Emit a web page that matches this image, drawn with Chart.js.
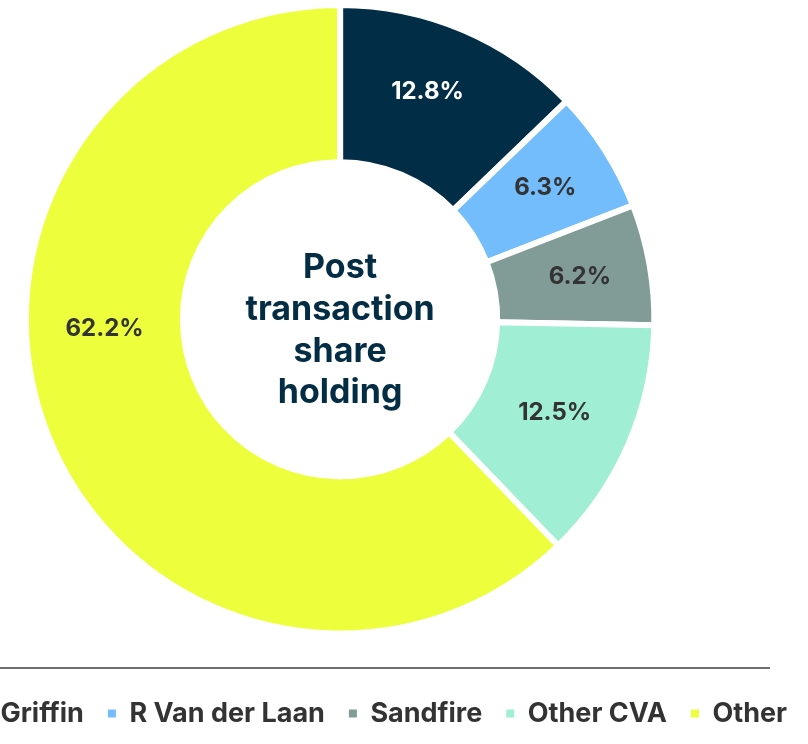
<!DOCTYPE html>
<html>
<head>
<meta charset="utf-8">
<script src="https://cdn.jsdelivr.net/npm/chart.js@4.4.0/dist/chart.umd.min.js"></script>
<style>
  html, body { margin: 0; padding: 0; background: #ffffff; overflow: hidden; }
  body { width: 808px; height: 744px; position: relative; }
  #holder { position: absolute; left: -56.6px; top: 0; width: 880px; height: 737px; }
  #rule { position: absolute; left: 0; top: 667px; width: 770px; height: 2px; background: #6e6e6e; }
</style>
</head>
<body>
<div id="holder"><canvas id="shareChart"></canvas></div>
<div id="rule"></div>
<script>
var holders = ['Griffin', 'R Van der Laan', 'Sandfire', 'Other CVA', 'Other'];
var shares = [12.8, 6.3, 6.2, 12.5, 62.2];
var sliceColours = ['#012d46', '#74bdfd', '#819c97', '#a0eed3', '#edff3c'];
var labelColours = ['#ffffff', '#333333', '#333333', '#333333', '#333333'];
var centreLines = ['Post', 'transaction', 'share', 'holding'];

// percentage labels sitting on each slice
var sliceLabels = {
    id: 'sliceLabels',
    afterDatasetsDraw: function (chart, args, opts) {
        var ctx = chart.ctx;
        var meta = chart.getDatasetMeta(0);
        ctx.save();
        ctx.font = opts.font;
        ctx.textAlign = 'center';
        ctx.textBaseline = 'middle';
        meta.data.forEach(function (arc, i) {
            var p = arc.getProps(['x', 'y', 'startAngle', 'endAngle', 'innerRadius', 'outerRadius'], true);
            var mid = (p.startAngle + p.endAngle) / 2 + (opts.angleShift[i] || 0) * Math.PI / 180;
            var r = p.innerRadius + (p.outerRadius - p.innerRadius) * opts.radiusFraction[i];
            ctx.fillStyle = labelColours[i];
            ctx.fillText(shares[i].toFixed(1) + '%', p.x + r * Math.cos(mid), p.y + r * Math.sin(mid));
        });
        ctx.restore();
    }
};

// title in the hole
var centreText = {
    id: 'centreText',
    afterDatasetsDraw: function (chart, args, opts) {
        var ctx = chart.ctx;
        var arc = chart.getDatasetMeta(0).data[0];
        ctx.save();
        ctx.font = opts.font;
        ctx.fillStyle = opts.color;
        ctx.textAlign = 'center';
        ctx.textBaseline = 'alphabetic';
        centreLines.forEach(function (line, i) {
            ctx.fillText(line, arc.x, arc.y + opts.firstBaseline + i * opts.lineGap);
        });
        ctx.restore();
    }
};

var ctx = document.getElementById('shareChart').getContext('2d');
var theChart = new Chart(ctx, {
    type: 'doughnut',
    data: {
        labels: holders,
        datasets: [{
            data: shares,
            backgroundColor: sliceColours,
            borderColor: '#ffffff',
            borderWidth: 6
        }]
    },
    options: {
        responsive: true,
        maintainAspectRatio: false,
        animation: false,
        cutout: '50%',
        layout: {
            padding: { top: 2 }
        },
        plugins: {
            tooltip: { enabled: false },
            // empty title on the right only pushes the ring to the left
            title: {
                display: true,
                position: 'right',
                text: '',
                font: { size: 8, lineHeight: 1 },
                padding: { top: 38.9, bottom: 38.9 }
            },
            legend: {
                position: 'bottom',
                align: 'center',
                // empty legend title = gap between ring and legend row
                title: {
                    display: true,
                    text: '',
                    font: { size: 10, lineHeight: 1 },
                    padding: 14.75
                },
                labels: {
                    boxWidth: 8,
                    boxHeight: 8,
                    padding: 24,
                    color: '#333333',
                    font: { family: 'Inter', size: 27, weight: 'bold' },
                    generateLabels: function (chart) {
                        var items = Chart.overrides.doughnut.plugins.legend.labels.generateLabels(chart);
                        items.forEach(function (item) {
                            item.lineWidth = 0;
                            item.strokeStyle = 'rgba(0,0,0,0)';
                        });
                        return items;
                    }
                }
            },
            sliceLabels: {
                font: 'bold 24px Inter',
                radiusFraction: [0.55, 0.55, 0.55, 0.49, 0.5],
                angleShift: [-2, 0, 0, 0, 19.6]
            },
            centreText: {
                font: 'bold 34px Inter',
                color: '#032d45',
                firstBaseline: -41,
                lineGap: 41.7
            }
        }
    },
    plugins: [sliceLabels, centreText]
});
</script>
</body>
</html>
